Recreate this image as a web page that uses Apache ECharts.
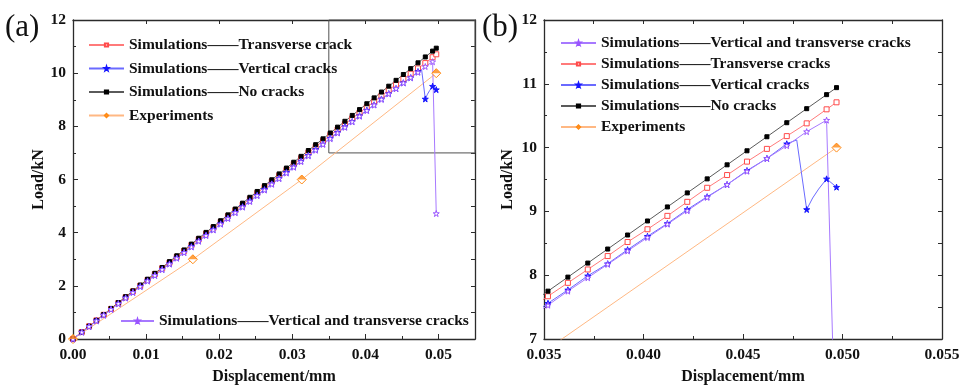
<!DOCTYPE html>
<html>
<head>
<meta charset="utf-8">
<script src="https://cdn.jsdelivr.net/npm/echarts@6/dist/echarts.min.js"></script>
<style>
  html, body { margin: 0; padding: 0; background: #fff; }
  #chart { width: 963px; height: 390px; }
</style>
</head>
<body>
<div id="chart"></div>
<script>
// Load–displacement curves: simulations with different crack patterns vs. experiments.
const dispSim = [0, 0.0012, 0.0022, 0.0032, 0.0042, 0.0052, 0.0062, 0.0072, 0.0082, 0.0092,
  0.0102, 0.0112, 0.0122, 0.0132, 0.0142, 0.0152, 0.0162, 0.0172, 0.0182, 0.0192,
  0.0202, 0.0212, 0.0222, 0.0232, 0.0242, 0.0252, 0.0262, 0.0272, 0.0282, 0.0292,
  0.0302, 0.0312, 0.0322, 0.0332, 0.0342, 0.0352, 0.0362, 0.0372, 0.0382, 0.0392,
  0.0402, 0.0412, 0.0422, 0.0432, 0.0442, 0.0452, 0.0462, 0.0472, 0.0482, 0.0492, 0.0497];

const loadNoCracks = [0, 0.26, 0.48, 0.70, 0.92, 1.15, 1.37, 1.59, 1.81, 2.03,
  2.25, 2.47, 2.69, 2.91, 3.13, 3.35, 3.57, 3.79, 4.01, 4.23,
  4.45, 4.67, 4.89, 5.11, 5.33, 5.55, 5.77, 5.99, 6.21, 6.43,
  6.65, 6.87, 7.09, 7.31, 7.53, 7.75, 7.97, 8.19, 8.41, 8.63,
  8.85, 9.07, 9.29, 9.51, 9.73, 9.95, 10.17, 10.39, 10.61, 10.83, 10.94];

const loadTransverse = [0, 0.26, 0.48, 0.70, 0.91, 1.13, 1.35, 1.57, 1.79, 2.00,
  2.22, 2.44, 2.66, 2.87, 3.09, 3.31, 3.53, 3.75, 3.96, 4.18,
  4.40, 4.62, 4.84, 5.05, 5.27, 5.49, 5.71, 5.92, 6.14, 6.36,
  6.58, 6.80, 7.01, 7.23, 7.45, 7.67, 7.88, 8.09, 8.30, 8.52,
  8.72, 8.93, 9.15, 9.37, 9.57, 9.78, 9.98, 10.18, 10.38, 10.60, 10.71];

const dispVertical = [0, 0.0012, 0.0022, 0.0032, 0.0042, 0.0052, 0.0062, 0.0072, 0.0082, 0.0092,
  0.0102, 0.0112, 0.0122, 0.0132, 0.0142, 0.0152, 0.0162, 0.0172, 0.0182, 0.0192,
  0.0202, 0.0212, 0.0222, 0.0232, 0.0242, 0.0252, 0.0262, 0.0272, 0.0282, 0.0292,
  0.0302, 0.0312, 0.0322, 0.0332, 0.0342, 0.0352, 0.0362, 0.0372, 0.0382, 0.0392,
  0.0402, 0.0412, 0.0422, 0.0432, 0.0442, 0.0452, 0.0462, 0.0472, 0.0477, 0.0482,
  0.0485, 0.0488, 0.0492, 0.0497];

const loadVertical = [0, 0.26, 0.47, 0.69, 0.90, 1.12, 1.33, 1.55, 1.76, 1.98,
  2.19, 2.40, 2.62, 2.83, 3.05, 3.26, 3.48, 3.69, 3.91, 4.12,
  4.34, 4.55, 4.77, 4.98, 5.20, 5.41, 5.63, 5.84, 6.05, 6.27,
  6.48, 6.70, 6.91, 7.13, 7.34, 7.56, 7.77, 7.99, 8.18, 8.40,
  8.61, 8.81, 9.03, 9.23, 9.42, 9.64, 9.83, 10.06, 10.12, 9.03,
  9.21, 9.35, 9.51, 9.38];

const loadVertTransverse = [0, 0.26, 0.47, 0.68, 0.90, 1.11, 1.33, 1.54, 1.75, 1.97,
  2.18, 2.39, 2.61, 2.82, 3.04, 3.25, 3.46, 3.68, 3.89, 4.10,
  4.32, 4.53, 4.75, 4.96, 5.17, 5.39, 5.60, 5.82, 6.03, 6.24,
  6.46, 6.67, 6.89, 7.10, 7.32, 7.53, 7.75, 7.96, 8.17, 8.38,
  8.59, 8.80, 9.01, 9.22, 9.42, 9.63, 9.83, 10.03, 10.25, 10.43, 4.72];

const dispExp = [0, 0.0164, 0.0313, 0.0497];
const loadExp = [0, 3, 6, 10];

// Zoomed window shown in panel (b), outlined in panel (a)
const windowDisp = [0.035, 0.055];
const windowLoad = [7, 12];

const xTicksA = { min: 0, max: 0.055, step: 0.01 };
const yTicksA = { min: 0, max: 12, step: 2 };
const xTicksB = { min: windowDisp[0], max: windowDisp[1], step: 0.005 };
const yTicksB = { min: windowLoad[0], max: windowLoad[1], step: 1 };

const DASH = '\u2014\u2014';
const N_TRANS_A = 'Simulations' + DASH + 'Transverse crack';
const N_TRANS_B = 'Simulations' + DASH + 'Transverse cracks';
const N_VERT = 'Simulations' + DASH + 'Vertical cracks';
const N_NONE = 'Simulations' + DASH + 'No cracks';
const N_VT = 'Simulations' + DASH + 'Vertical and transverse cracks';
const N_EXP = 'Experiments';

const SERIF = 'Liberation Serif';
const STAR = 'path://M50,0 L61.2,34.5 L97.6,34.5 L68.2,55.9 L79.4,90.5 L50,69.1 L20.6,90.5 L31.8,55.9 L2.4,34.5 L38.8,34.5 Z';
const TRI_UP = 'path://M0,10 L10,0 L20,10 Z';

const styles = {
  none:  { symbol: 'rect', size: 4, fill: '#000000', border: '#000000', line: '#5a5a5a' },
  trans: { symbol: 'rect', size: 5, fill: '#ffffff', border: '#ff4a4a', line: '#ff7a7a' },
  vert:  { symbol: STAR, size: 6, fill: '#1616ff', border: '#1616ff', line: '#6a6aff' },
  vt:    { symbol: STAR, size: 6, fill: '#ffffff', border: '#9a55ff', line: '#a779ff' },
  exp:   { symbol: 'diamond', size: 9, fill: '#ffffff', border: '#ff8a14', line: '#ffb883' }
};

function lineSeries(name, xs, ys, st, panel) {
  return {
    type: 'line', name: name,
    xAxisIndex: panel * 2, yAxisIndex: panel * 2,
    data: xs.map((x, i) => (dispSim.includes(x) || st === styles.exp)
      ? [x, ys[i]] : { value: [x, ys[i]], symbol: 'none' }),
    symbol: st.symbol, symbolSize: st.size, showAllSymbol: true,
    lineStyle: { color: st.line, width: 1 },
    itemStyle: { color: st.fill, borderColor: st.border, borderWidth: 1 },
    emphasis: { disabled: true },
    clip: true, animation: false
  };
}

function expCap(panel) {
  // filled upper half of the experiment diamonds
  return {
    type: 'scatter', name: N_EXP,
    xAxisIndex: panel * 2, yAxisIndex: panel * 2,
    data: dispExp.map((x, i) => [x, loadExp[i]]),
    symbol: TRI_UP, symbolSize: [9, 4.5], symbolOffset: [0, -2.25],
    itemStyle: { color: '#ff8a14' },
    emphasis: { disabled: true },
    clip: true, animation: false, z: 3
  };
}

const AXIS_COLOR = '#2b2b2b';
const labelFont = { fontFamily: SERIF, fontWeight: 'bold', fontSize: 15.5, color: '#111' };
const nameFont = { fontFamily: SERIF, fontWeight: 'bold', fontSize: 16, color: '#111' };

function mainX(grid, t, digits) {
  return {
    type: 'value', gridIndex: grid, position: 'bottom',
    min: t.min, max: t.max, interval: t.step,
    name: 'Displacement/mm', nameLocation: 'middle', nameGap: 30, nameTextStyle: nameFont,
    axisLine: { show: true, onZero: false, lineStyle: { color: AXIS_COLOR, width: 1.3 } },
    axisTick: { show: true, inside: true, length: 5, lineStyle: { color: AXIS_COLOR } },
    minorTick: { show: true, splitNumber: 2, length: 3, lineStyle: { color: AXIS_COLOR } },
    axisLabel: { ...labelFont, margin: 8, showMaxLabel: digits === 3,
      formatter: v => Number(v).toFixed(digits) },
    splitLine: { show: false }
  };
}
function frameX(grid, t, step) {
  return {
    type: 'value', gridIndex: grid, position: 'top',
    min: t.min, max: t.max, interval: step,
    axisLine: { show: true, onZero: false, lineStyle: { color: AXIS_COLOR, width: 1.3 } },
    axisTick: { show: true, inside: true, length: 4, lineStyle: { color: AXIS_COLOR } },
    axisLabel: { show: false }, splitLine: { show: false }
  };
}
function mainY(grid, t, gap) {
  return {
    type: 'value', gridIndex: grid, position: 'left',
    min: t.min, max: t.max, interval: t.step,
    name: 'Load/kN', nameLocation: 'middle', nameGap: gap, nameTextStyle: nameFont,
    axisLine: { show: true, onZero: false, lineStyle: { color: AXIS_COLOR, width: 1.3 } },
    axisTick: { show: true, inside: true, length: 5, lineStyle: { color: AXIS_COLOR } },
    minorTick: { show: true, splitNumber: 2, length: 3, lineStyle: { color: AXIS_COLOR } },
    axisLabel: { ...labelFont, margin: 7 },
    splitLine: { show: false }
  };
}
function frameY(grid, t, step) {
  return {
    type: 'value', gridIndex: grid, position: 'right',
    min: t.min, max: t.max, interval: step,
    axisLine: { show: true, onZero: false, lineStyle: { color: AXIS_COLOR, width: 1.3 } },
    axisTick: { show: true, inside: true, length: 4, lineStyle: { color: AXIS_COLOR } },
    axisLabel: { show: false }, splitLine: { show: false }
  };
}

const legendText = { fontFamily: SERIF, fontWeight: 'bold', fontSize: 15.5, color: '#111', lineHeight: 16 };

const seriesA = [
  lineSeries(N_EXP, dispExp, loadExp, styles.exp, 0),
  lineSeries(N_TRANS_A, dispSim, loadTransverse, styles.trans, 0),
  lineSeries(N_NONE, dispSim, loadNoCracks, styles.none, 0),
  lineSeries(N_VERT, dispVertical, loadVertical, styles.vert, 0),
  lineSeries(N_VT, dispSim, loadVertTransverse, styles.vt, 0),
  expCap(0)
];
seriesA[0].markArea = {
  silent: true,
  itemStyle: { color: 'rgba(0,0,0,0)', borderColor: '#505050', borderWidth: 1 },
  data: [[{ coord: [windowDisp[0], windowLoad[0]] }, { coord: [windowDisp[1], windowLoad[1]] }]]
};

const seriesB = [
  lineSeries(N_EXP, dispExp, loadExp, styles.exp, 1),
  lineSeries(N_TRANS_B, dispSim, loadTransverse, styles.trans, 1),
  lineSeries(N_NONE, dispSim, loadNoCracks, styles.none, 1),
  lineSeries(N_VERT, dispVertical, loadVertical, styles.vert, 1),
  lineSeries(N_VT, dispSim, loadVertTransverse, styles.vt, 1),
  expCap(1)
];

const option = {
  backgroundColor: '#ffffff',
  animation: false,
  grid: [
    { left: 73, top: 20, width: 402, height: 324 },
    { left: 544, top: 20, width: 398, height: 323 }
  ],
  xAxis: [
    mainX(0, xTicksA, 2), frameX(0, xTicksA, 0.01),
    mainX(1, xTicksB, 3), frameX(1, xTicksB, 0.0025)
  ],
  yAxis: [
    mainY(0, yTicksA, 24), frameY(0, yTicksA, 1),
    mainY(1, yTicksB, 28), frameY(1, yTicksB, 0.5)
  ],
  legend: [
    { orient: 'vertical', left: 88, top: 37, padding: 0, itemWidth: 35, itemHeight: 4, itemGap: 7.5,
      textStyle: legendText, selectedMode: false,
      data: [N_TRANS_A, N_VERT, N_NONE, N_EXP] },
    { orient: 'vertical', left: 120, top: 313, padding: 0, itemWidth: 33, itemHeight: 4,
      textStyle: legendText, selectedMode: false,
      data: [N_VT] },
    { orient: 'vertical', left: 560, top: 35, padding: 0, itemWidth: 35, itemHeight: 4, itemGap: 5,
      textStyle: legendText, selectedMode: false,
      data: [N_VT, N_TRANS_B, N_VERT, N_NONE, N_EXP] }
  ],
  graphic: [
    { type: 'text', left: 5, top: 12, style: { text: '(a)', font: '31px ' + SERIF, fill: '#111' } },
    { type: 'text', left: 482, top: 12, style: { text: '(b)', font: '31px ' + SERIF, fill: '#111' } }
  ],
  series: seriesA.concat(seriesB)
};

const chart = echarts.init(document.getElementById('chart'), null, { renderer: 'canvas' });
chart.setOption(option);
</script>
</body>
</html>
